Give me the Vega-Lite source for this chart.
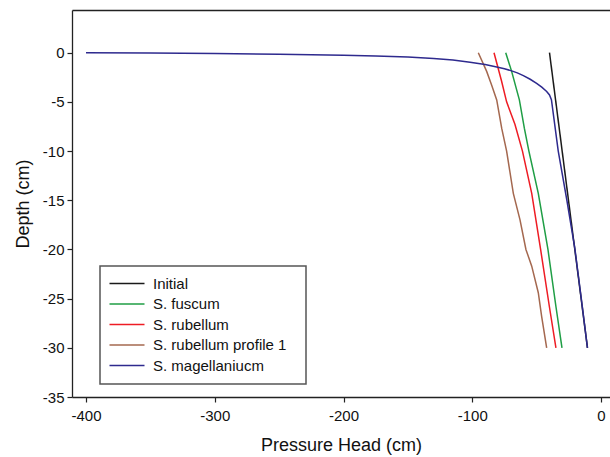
{
  "$schema": "https://vega.github.io/schema/vega-lite/v6.json",
  "width": 538,
  "height": 387,
  "autosize": {"type": "none"},
  "padding": {"left": 72, "top": 10, "right": 0, "bottom": 60},
  "background": "white",
  "config": {
    "font": "Liberation Sans",
    "view": {"stroke": null},
    "axis": {
      "grid": false,
      "domainColor": "#222222",
      "domainWidth": 1.3,
      "tickColor": "#222222",
      "tickWidth": 1.2,
      "tickSize": 5,
      "labelColor": "#111111",
      "labelFontSize": 15,
      "labelFont": "Liberation Sans",
      "labelExpr": "replace(datum.label, '\u2212', '-')",
      "titleFont": "Liberation Sans",
      "titleFontSize": 18,
      "titleFontWeight": "normal",
      "titleColor": "#111111"
    }
  },
  "data": {
    "values": [
      {"series": "Initial", "p": -40, "d": 0},
      {"series": "Initial", "p": -10.5, "d": -30},
      {"series": "S. fuscum", "p": -74, "d": 0},
      {"series": "S. fuscum", "p": -69.4, "d": -1.9},
      {"series": "S. fuscum", "p": -63.4, "d": -4.8},
      {"series": "S. fuscum", "p": -59.5, "d": -7.7},
      {"series": "S. fuscum", "p": -56, "d": -10},
      {"series": "S. fuscum", "p": -48.7, "d": -14.3},
      {"series": "S. fuscum", "p": -41.2, "d": -20},
      {"series": "S. fuscum", "p": -35, "d": -25.8},
      {"series": "S. fuscum", "p": -30.3, "d": -30},
      {"series": "S. rubellum", "p": -83.1, "d": 0},
      {"series": "S. rubellum", "p": -77.2, "d": -2.9},
      {"series": "S. rubellum", "p": -73.3, "d": -5},
      {"series": "S. rubellum", "p": -66.8, "d": -7.3},
      {"series": "S. rubellum", "p": -61, "d": -10},
      {"series": "S. rubellum", "p": -53.8, "d": -14.3},
      {"series": "S. rubellum", "p": -46.9, "d": -20},
      {"series": "S. rubellum", "p": -40.1, "d": -25.8},
      {"series": "S. rubellum", "p": -35, "d": -30},
      {"series": "S. rubellum profile 1", "p": -95.3, "d": 0},
      {"series": "S. rubellum profile 1", "p": -88.8, "d": -1.9},
      {"series": "S. rubellum profile 1", "p": -84.9, "d": -3.3},
      {"series": "S. rubellum profile 1", "p": -81, "d": -4.8},
      {"series": "S. rubellum profile 1", "p": -77.1, "d": -7.7},
      {"series": "S. rubellum profile 1", "p": -73.3, "d": -10},
      {"series": "S. rubellum profile 1", "p": -68.1, "d": -14.3},
      {"series": "S. rubellum profile 1", "p": -62.9, "d": -17},
      {"series": "S. rubellum profile 1", "p": -58.3, "d": -20},
      {"series": "S. rubellum profile 1", "p": -53.8, "d": -21.7},
      {"series": "S. rubellum profile 1", "p": -48.7, "d": -24.4},
      {"series": "S. rubellum profile 1", "p": -46.1, "d": -26.8},
      {"series": "S. rubellum profile 1", "p": -42.2, "d": -30},
      {"series": "S. magellaniucm", "p": -400, "d": 0},
      {"series": "S. magellaniucm", "p": -350, "d": -0.04},
      {"series": "S. magellaniucm", "p": -300, "d": -0.09},
      {"series": "S. magellaniucm", "p": -250, "d": -0.16},
      {"series": "S. magellaniucm", "p": -200, "d": -0.26},
      {"series": "S. magellaniucm", "p": -175, "d": -0.33},
      {"series": "S. magellaniucm", "p": -150, "d": -0.44},
      {"series": "S. magellaniucm", "p": -130, "d": -0.58},
      {"series": "S. magellaniucm", "p": -115, "d": -0.75},
      {"series": "S. magellaniucm", "p": -101.7, "d": -0.98},
      {"series": "S. magellaniucm", "p": -90, "d": -1.2},
      {"series": "S. magellaniucm", "p": -81, "d": -1.45},
      {"series": "S. magellaniucm", "p": -75, "d": -1.63},
      {"series": "S. magellaniucm", "p": -69.4, "d": -1.85},
      {"series": "S. magellaniucm", "p": -65, "d": -2.05},
      {"series": "S. magellaniucm", "p": -60.3, "d": -2.33},
      {"series": "S. magellaniucm", "p": -55, "d": -2.7},
      {"series": "S. magellaniucm", "p": -50, "d": -3.12},
      {"series": "S. magellaniucm", "p": -46, "d": -3.5},
      {"series": "S. magellaniucm", "p": -42.2, "d": -3.95},
      {"series": "S. magellaniucm", "p": -40, "d": -4.3},
      {"series": "S. magellaniucm", "p": -38.5, "d": -4.78},
      {"series": "S. magellaniucm", "p": -33.2, "d": -10},
      {"series": "S. magellaniucm", "p": -26.5, "d": -15},
      {"series": "S. magellaniucm", "p": -20.2, "d": -20},
      {"series": "S. magellaniucm", "p": -15.3, "d": -25},
      {"series": "S. magellaniucm", "p": -10.5, "d": -30}
    ]
  },
  "layer": [
    {
      "mark": {"type": "line", "strokeWidth": 1.5, "clip": true},
      "encoding": {
        "x": {
          "field": "p", "type": "quantitative",
          "scale": {"domain": [-410.9, 7.0], "nice": false, "zero": false},
          "axis": {"values": [-400, -300, -200, -100, 0], "title": "Pressure Head (cm)", "labelPadding": 6, "titlePadding": 13}
        },
        "y": {
          "field": "d", "type": "quantitative",
          "scale": {"domain": [-35, 4.34], "nice": false, "zero": false},
          "axis": {"values": [-35, -30, -25, -20, -15, -10, -5, 0], "title": "Depth (cm)", "labelPadding": 3, "titlePadding": 10}
        },
        "color": {
          "field": "series", "type": "nominal",
          "scale": {
            "domain": ["Initial", "S. fuscum", "S. rubellum", "S. rubellum profile 1", "S. magellaniucm"],
            "range": ["#1a1a1a", "#1f9e45", "#ee1c24", "#a4684f", "#2e2a8e"]
          },
          "legend": {
            "title": "i",
            "titleOrient": "right",
            "titleColor": "rgba(255,255,255,0)",
            "titleFontSize": 6,
            "titlePadding": 8,
            "orient": "none",
            "legendX": 28,
            "legendY": 256,
            "symbolType": "M-1.6,0H5.4",
            "symbolSize": 100,
            "symbolStrokeWidth": 1.5,
            "symbolFillColor": "transparent",
            "labelFontSize": 15,
            "labelFont": "Liberation Sans",
            "labelColor": "#111111",
            "labelOffset": 28,
            "labelLimit": 300,
            "strokeColor": "#555555",
            "padding": 10,
            "rowPadding": 4.5,
            "fillColor": "white",
            "encode": {"legend": {"update": {"strokeWidth": {"value": 1.5}}}}
          }
        },
        "order": {"field": "d", "sort": "descending"}
      }
    },
    {
      "mark": {"type": "line", "opacity": 0},
      "encoding": {
        "x": {
          "field": "p", "type": "quantitative",
          "axis": {"orient": "top", "labels": false, "ticks": false, "title": null, "domain": true}
        }
      }
    }
  ],
  "resolve": {"axis": {"x": "independent"}}
}
